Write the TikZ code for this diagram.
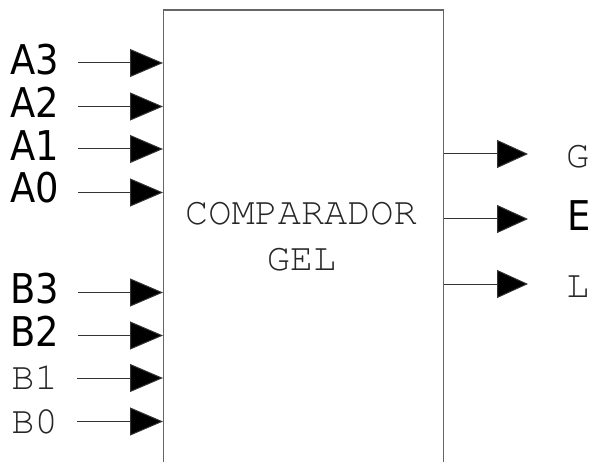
\documentclass[tikz,border=0pt]{standalone}
\usepackage{fontspec}
\usetikzlibrary{arrows.meta}
\newfontfamily\sansf[FakeStretch=0.9]{DejaVu Sans}
\newfontfamily\monof{TeX Gyre Cursor}
\begin{document}
\begin{tikzpicture}[x=1pt,y=-1pt,
  sanslbl/.style={font=\sansf\fontsize{41}{41}\selectfont,text=black,inner sep=0pt},
  monolbl/.style={font=\monof\fontsize{38.6}{38.6}\selectfont,text=black!85,inner sep=0pt},
  inarr/.style={draw=black!80,line width=1pt,-{Triangle[length=33pt,width=28pt,fill=black]},shorten <=19pt},
  outarr/.style={draw=black!80,line width=1pt,-{Triangle[length=31pt,width=28pt,fill=black]}},
  blockbox/.style={draw=black!60,line width=1.3pt,minimum width=279.5pt,minimum height=480pt,inner sep=0pt}]
\useasboundingbox (0,0) rectangle (591,462);
\fill[white] (0,0) rectangle (591,462);
\node[blockbox,anchor=north west] (comp) at (163,9.5) {};
\node[monolbl,anchor=base] (t1) at (301,225) {COMPARADOR};
\node[monolbl,anchor=base] (t2) at (301.5,270) {GEL};
% inputs
\node[sanslbl,anchor=base east] (a3) at (59,75) {A3};
\node[sanslbl,anchor=base east] (a2) at (59,118) {A2};
\node[sanslbl,anchor=base east] (a1) at (59,161) {A1};
\node[sanslbl,anchor=base east] (a0) at (59,203) {A0};
\node[sanslbl,anchor=base east] (b3) at (59,303) {B3};
\node[sanslbl,anchor=base east] (b2) at (59,346) {B2};
\node[monolbl,anchor=base east] (b1) at (58,389) {B1};
\node[monolbl,anchor=base east] (b0) at (58,433) {B0};
\coordinate (ya3) at (0,63);
\coordinate (ya2) at (0,106.5);
\coordinate (ya1) at (0,149);
\coordinate (ya0) at (0,192.5);
\coordinate (yb3) at (0,292.5);
\coordinate (yb2) at (0,335.5);
\coordinate (yb1) at (0,378);
\coordinate (yb0) at (0,421.5);
\foreach \n in {a3,a2,a1,a0,b3,b2,b1,b0}{
  \draw[inarr] (\n.east |- y\n) -- (comp.west |- y\n);
}
% outputs
\node[monolbl,anchor=base west] (g) at (566,168) {G};
\node[sanslbl,anchor=base west] (e) at (567,230) {E};
\node[monolbl,anchor=base west] (l) at (566,297) {L};
\coordinate (gtip) at (528,154);
\coordinate (etip) at (528,219);
\coordinate (ltip) at (528,284);
\draw[outarr] (comp.east |- gtip) -- (gtip);
\draw[outarr] (comp.east |- etip) -- (etip);
\draw[outarr] (comp.east |- ltip) -- (ltip);
\end{tikzpicture}
\end{document}
